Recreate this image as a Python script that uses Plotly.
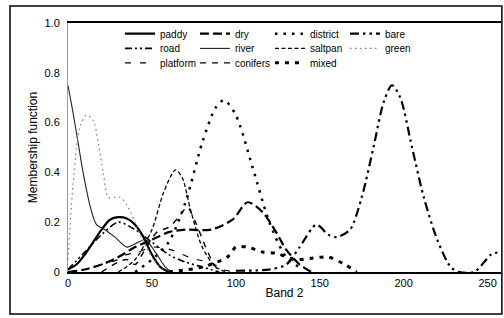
import plotly.graph_objects as go

# ---- data ----
paddy_x = [0, 5, 10, 15, 20, 25, 30, 35, 40, 45, 50, 55, 60]
paddy_y = [0.01, 0.03, 0.07, 0.12, 0.17, 0.21, 0.22, 0.215, 0.19, 0.14, 0.07, 0.02, 0.0]

dry_x = [0, 10, 20, 30, 40, 50, 60, 70, 85, 98, 107, 116, 124, 130, 138, 145]
dry_y = [0.0, 0.01, 0.03, 0.06, 0.10, 0.13, 0.16, 0.17, 0.17, 0.21, 0.28, 0.24, 0.16, 0.09, 0.03, 0.0]

district_x = [40, 50, 60, 70, 80, 88, 93, 100, 110, 120, 130, 140]
district_y = [0.0, 0.05, 0.12, 0.28, 0.52, 0.66, 0.69, 0.63, 0.42, 0.20, 0.06, 0.01]

bare_x = [100, 120, 130, 138, 148, 155, 160, 168, 175, 182, 188, 193, 198, 205, 212, 220, 228, 233, 242, 248, 252, 257]
bare_y = [0.005, 0.01, 0.03, 0.10, 0.19, 0.15, 0.14, 0.17, 0.30, 0.50, 0.68, 0.75, 0.70, 0.50, 0.30, 0.13, 0.02, 0.0, 0.0, 0.04, 0.07, 0.08]

road_x = [0, 10, 20, 30, 40, 50, 60, 70, 80, 90]
road_y = [0.01, 0.08, 0.15, 0.20, 0.17, 0.12, 0.07, 0.04, 0.02, 0.0]

river_x = [0, 3, 6, 9, 13, 17, 22, 28, 35, 42, 46, 52, 58, 62]
river_y = [0.75, 0.64, 0.52, 0.40, 0.27, 0.19, 0.17, 0.14, 0.10, 0.12, 0.13, 0.08, 0.02, 0.0]

saltpan_x = [30, 40, 50, 57, 64, 68, 73, 80, 88, 95]
saltpan_y = [0.0, 0.05, 0.17, 0.32, 0.41, 0.38, 0.25, 0.10, 0.02, 0.0]

green_x = [0, 3, 7, 11, 15, 18, 21, 24, 28, 31, 35, 40, 45, 52, 58]
green_y = [0.05, 0.35, 0.58, 0.63, 0.61, 0.52, 0.40, 0.30, 0.30, 0.30, 0.27, 0.20, 0.12, 0.04, 0.0]

platform_x = [0, 10, 20, 30, 35, 42, 50, 61, 74, 86, 92, 100]
platform_y = [0.0, 0.01, 0.03, 0.05, 0.07, 0.08, 0.10, 0.09, 0.055, 0.035, 0.01, 0.0]

conifers_x = [20, 30, 35, 40, 45, 53, 60, 66, 71, 76, 82, 88, 92]
conifers_y = [0.0, 0.04, 0.05, 0.03, 0.08, 0.16, 0.18, 0.22, 0.26, 0.20, 0.10, 0.02, 0.0]

mixed_x = [60, 80, 95, 100, 107, 116, 124, 135, 145, 155, 165, 172]
mixed_y = [0.0, 0.02, 0.06, 0.10, 0.10, 0.08, 0.075, 0.05, 0.055, 0.06, 0.03, 0.0]

x_ticks = [0, 50, 100, 150, 200, 250]
y_ticks = [0, 0.2, 0.4, 0.6, 0.8, 1.0]
y_tick_text = ["0", "0.2", "0.4", "0.6", "0.8", "1.0"]

series = [
    ("paddy", paddy_x, paddy_y, "solid", 2.2, "black", "legend"),
    ("dry", dry_x, dry_y, "9px,4px", 2.2, "black", "legend"),
    ("district", district_x, district_y, "2.5px,6px", 2.5, "black", "legend"),
    ("bare", bare_x, bare_y, "9px,4px,2.5px,4px,2.5px,4px", 2.2, "black", "legend"),
    ("road", road_x, road_y, "7px,3px,2px,3px,2px,3px", 1.6, "black", "legend2"),
    ("river", river_x, river_y, "solid", 1.1, "#222", "legend2"),
    ("saltpan", saltpan_x, saltpan_y, "4px,2.5px", 1.3, "black", "legend2"),
    ("green", green_x, green_y, "1.5px,3.5px", 1.2, "#777", "legend2"),
    ("platform", platform_x, platform_y, "6px,9px", 1.2, "black", "legend3"),
    ("conifers", conifers_x, conifers_y, "6px,6px", 1.4, "black", "legend3"),
    ("mixed", mixed_x, mixed_y, "4px,6px", 3.0, "black", "legend3"),
]

fig = go.Figure()
for name, xs, ys, dash, w, col, lg in series:
    fig.add_trace(go.Scatter(x=xs, y=ys, mode="lines", name=name, legend=lg,
                             line=dict(color=col, width=w, dash=dash, shape="spline", smoothing=0.8)))

FAM = "Liberation Sans, Arial, sans-serif"
leg_common = dict(orientation="h", xanchor="left", yanchor="middle", x=0.12,
                  bgcolor="rgba(0,0,0,0)", font=dict(family=FAM, size=10, color="black"),
                  entrywidth=30, entrywidthmode="pixels", itemwidth=30, tracegroupgap=0)

fig.update_layout(
    width=504, height=318,
    margin=dict(l=68, r=3, t=23, b=46),
    paper_bgcolor="white", plot_bgcolor="white",
    font=dict(family=FAM, size=11, color="black"),
    showlegend=True,
    legend=dict(y=0.957, **leg_common),
    legend2=dict(y=0.898, **leg_common),
    legend3=dict(y=0.84, **leg_common),
    xaxis=dict(range=[0, 258], tickvals=x_ticks, showgrid=False, zeroline=False,
               showline=True, linecolor="black", linewidth=2, mirror=True,
               ticks="", tickfont=dict(size=11, family=FAM),
               title=dict(text="Band 2", standoff=0, font=dict(size=12))),
    yaxis=dict(range=[0, 1.0], tickvals=y_ticks, ticktext=y_tick_text, showgrid=False, zeroline=False,
               showline=True, linecolor="#999", linewidth=1, ticks="", ticklabelstandoff=5,
               tickfont=dict(size=11, family=FAM),
               title=dict(text="Membership function", standoff=4, font=dict(size=12))),
    shapes=[dict(type="rect", xref="paper", yref="paper",
                 x0=-0.134, x1=1.002, y0=-0.169, y1=1.068,
                 line=dict(color="black", width=1.5), fillcolor="rgba(0,0,0,0)")],
)

fig.write_html("out.html", config={"displayModeBar": False},
               post_script="document.body.style.margin='0';document.body.style.padding='0';document.body.style.overflow='hidden';")
